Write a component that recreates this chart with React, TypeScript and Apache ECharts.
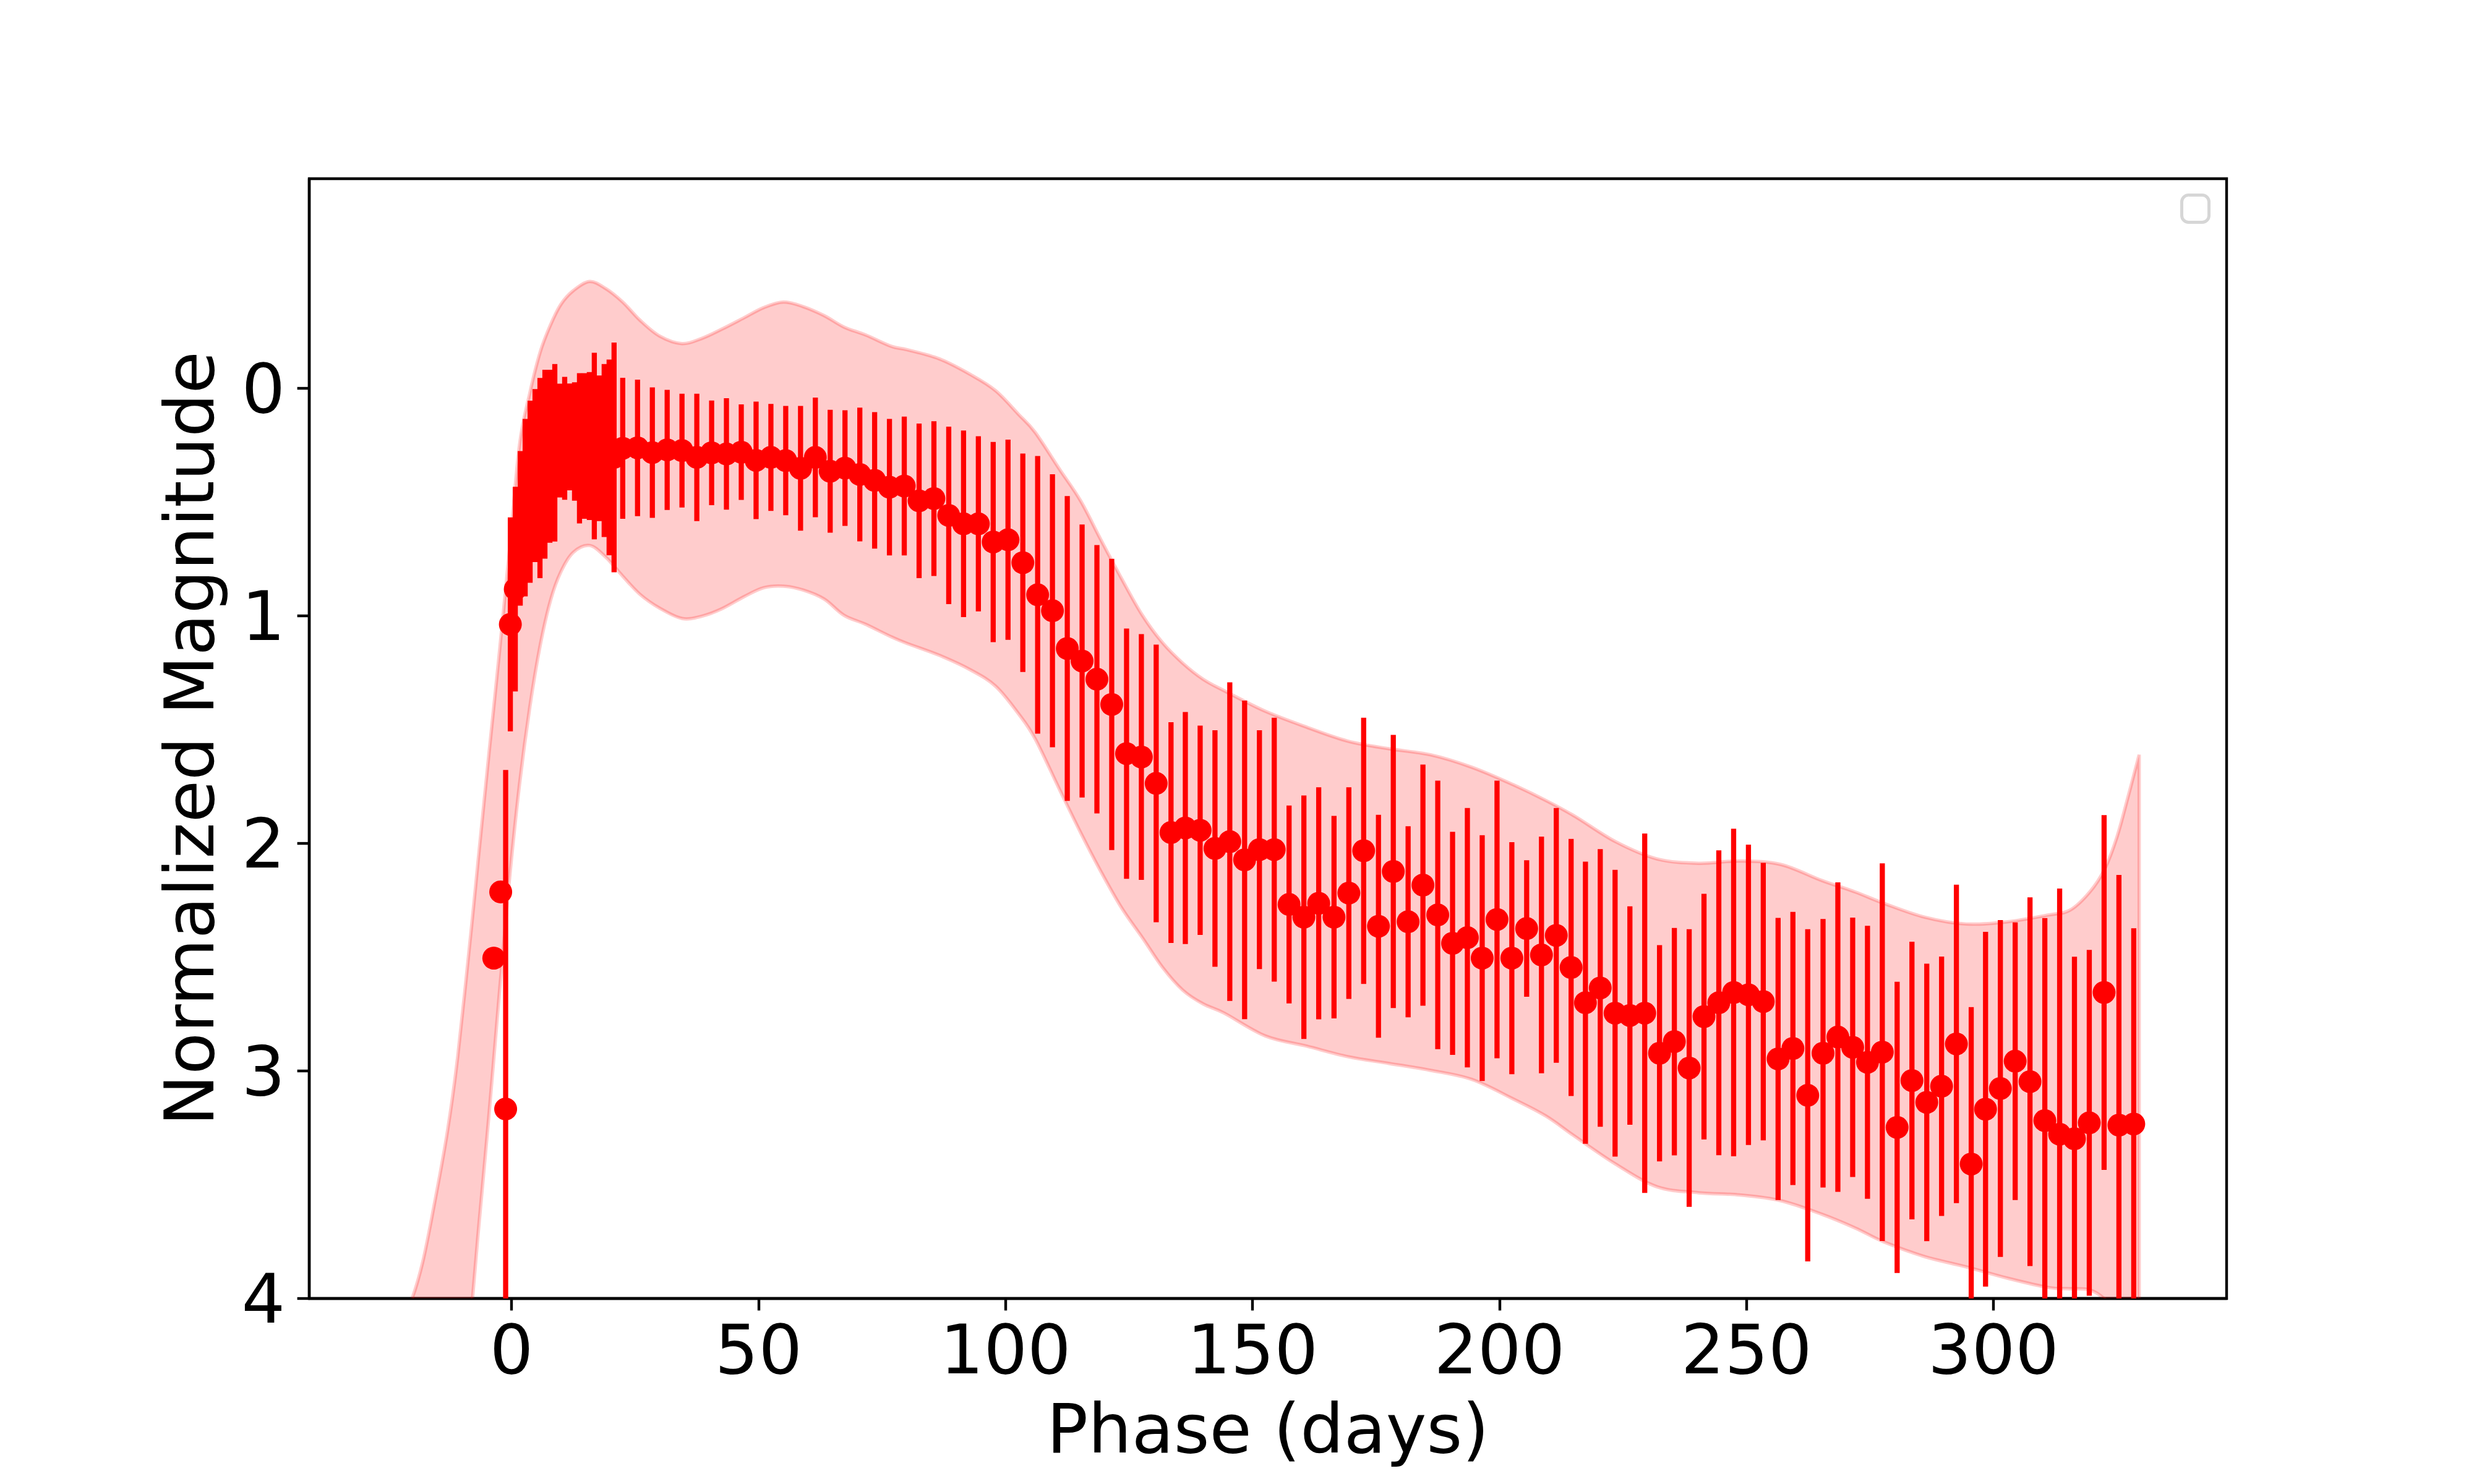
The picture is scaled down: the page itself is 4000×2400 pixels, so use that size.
import React, { useEffect, useRef } from "react";
import * as echarts from "echarts";

// ---- Observations (phase in days, normalized magnitude, 1-sigma error) ----
const phase = [
  -3.6, -2.2, -1.2, -0.25, 0.75, 1.75, 2.75, 3.75, 4.75, 5.75, 6.75, 7.75, 8.75, 9.75, 10.75,
  11.75, 12.75, 13.75, 14.75, 15.75, 16.75, 17.75, 18.75, 19.75, 20.75,
  22.5, 25.5, 28.5, 31.5, 34.5, 37.5, 40.5, 43.5, 46.5, 49.5, 52.5, 55.5, 58.5, 61.5, 64.5,
  67.5, 70.5, 73.5, 76.5, 79.5, 82.5, 85.5, 88.5, 91.5, 94.5, 97.5, 100.5, 103.5, 106.5,
  109.5, 112.5, 115.5, 118.5, 121.5, 124.5, 127.5, 130.5, 133.5, 136.4, 139.4, 142.4, 145.4,
  148.4, 151.4, 154.4, 157.4, 160.4, 163.4, 166.5, 169.5, 172.5, 175.5, 178.5, 181.5, 184.5,
  187.5, 190.5, 193.5, 196.5, 199.5, 202.5, 205.5, 208.5, 211.5, 214.5, 217.4, 220.4, 223.4,
  226.4, 229.4, 232.4, 235.4, 238.4, 241.4, 244.4, 247.4, 250.4, 253.4, 256.4, 259.4, 262.4,
  265.5, 268.5, 271.5, 274.5, 277.5, 280.5, 283.5, 286.5, 289.5, 292.5, 295.5, 298.4, 301.4,
  304.4, 307.4, 310.4, 313.4, 316.4, 319.4, 322.4, 325.4, 328.4,
];
const mag = [
  2.504, 2.213, 3.167, 1.037, 0.882, 0.615, 0.524, 0.454, 0.383, 0.394, 0.333, 0.298, 0.283,
  0.229, 0.219, 0.213, 0.233, 0.263, 0.253, 0.253, 0.253, 0.263, 0.273, 0.303, 0.303,
  0.263, 0.261, 0.282, 0.27, 0.273, 0.303, 0.283, 0.288, 0.28, 0.316, 0.303, 0.317, 0.351,
  0.303, 0.364, 0.35, 0.378, 0.404, 0.434, 0.429, 0.494, 0.484, 0.558, 0.595, 0.595, 0.675,
  0.665, 0.766, 0.907, 0.977, 1.143, 1.198, 1.278, 1.389, 1.605, 1.62, 1.736, 1.952, 1.932,
  1.942, 2.022, 1.992, 2.072, 2.027, 2.027, 2.268, 2.324, 2.263, 2.324, 2.218, 2.032, 2.364,
  2.123, 2.344, 2.183, 2.314, 2.439, 2.414, 2.504, 2.334, 2.504, 2.374, 2.49, 2.404, 2.545,
  2.7, 2.635, 2.746, 2.756, 2.746, 2.922, 2.871, 2.987, 2.761, 2.7, 2.655, 2.665, 2.695,
  2.947, 2.901, 3.107, 2.922, 2.851, 2.896, 2.962, 2.917, 3.248, 3.042, 3.138, 3.067, 2.881,
  3.409, 3.168, 3.077, 2.957, 3.047, 3.218, 3.278, 3.298, 3.228, 2.655, 3.238, 3.233,
];
const magErr = [
  0.02, 0.02, 1.49, 0.47, 0.45, 0.34, 0.39, 0.4, 0.38, 0.44, 0.415, 0.38, 0.39, 0.25, 0.27,
  0.235, 0.26, 0.33, 0.32, 0.325, 0.41, 0.32, 0.38, 0.43, 0.505,
  0.31, 0.3, 0.287, 0.264, 0.25, 0.28, 0.23, 0.245, 0.21, 0.258, 0.235, 0.24, 0.274, 0.263, 0.27,
  0.254, 0.294, 0.3, 0.3, 0.305, 0.34, 0.34, 0.39, 0.41, 0.385, 0.44, 0.44, 0.48, 0.61,
  0.6, 0.67, 0.6, 0.59, 0.64, 0.55, 0.54, 0.61, 0.485, 0.51, 0.46, 0.52, 0.7,
  0.7, 0.525, 0.58, 0.435, 0.535, 0.51, 0.445, 0.465, 0.585, 0.49, 0.6, 0.42, 0.53,
  0.59, 0.49, 0.57, 0.54, 0.61, 0.51, 0.3, 0.52, 0.56, 0.565, 0.62, 0.61, 0.63,
  0.48, 0.79, 0.475, 0.5, 0.61, 0.54, 0.67, 0.72, 0.66, 0.61, 0.62, 0.6, 0.73,
  0.59, 0.68, 0.57, 0.6, 0.83, 0.64, 0.61, 0.61, 0.57, 0.7, 0.69, 0.78, 0.74,
  0.61, 0.81, 0.89, 1.08, 0.8, 0.76, 0.78, 1.1, 0.86,
];

// ---- Model confidence band (bright edge / faint edge) ----
const bandPhase = [
  -23.3, -20.5, -18, -15.5, -13, -10.9, -8, -6.8, -4.6, -2.5, -0.5, 1.6, 3.7, 5.8, 7.9, 10,
  12.5, 15.8, 19, 22.5, 26, 30, 34.5, 38.5, 42.5, 47, 51, 55, 59, 63.3, 67.3, 71.7, 76.9,
  80.1, 86.6, 93, 98, 102.6, 106, 110.9, 115.2, 119.3, 123.5, 127.7, 131.8, 135.9, 140,
  144.3, 152.6, 161, 169.3, 177.7, 186, 194.4, 202.7, 209.4, 215.3, 223.5, 231.9, 240.3,
  248.6, 256.9, 265.3, 272, 277.8, 286.1, 294.5, 302.9, 311.2, 315.5, 319.5, 322.5, 325,
  327.3, 329.5,
];
const bandUpper = [
  4.143, 4.022, 3.841, 3.57, 3.268, 2.937, 2.344, 2.082, 1.61, 1.168, 0.726, 0.25, 0.02, -0.16,
  -0.28, -0.37, -0.43, -0.47, -0.44, -0.38, -0.3, -0.23, -0.197, -0.22, -0.26, -0.31, -0.355,
  -0.38, -0.36, -0.32, -0.27, -0.235, -0.185, -0.17, -0.13, -0.06, 0.01, 0.113, 0.193, 0.354,
  0.494, 0.665, 0.836, 0.997, 1.118, 1.208, 1.278, 1.329, 1.419, 1.489, 1.55, 1.584, 1.61,
  1.665, 1.741, 1.811, 1.881, 1.992, 2.068, 2.087, 2.077, 2.092, 2.163, 2.213, 2.263, 2.324,
  2.354, 2.344, 2.314, 2.293, 2.213, 2.113, 1.972, 1.791, 1.61,
];
const bandLower = [
  9.5, 8.4, 7.4, 6.4, 5.45, 4.7, 4.022, 3.721, 3.198, 2.665, 2.173, 1.741, 1.399, 1.128, 0.93,
  0.805, 0.72, 0.69, 0.74, 0.825, 0.905, 0.966, 1.011, 1.001, 0.969, 0.916, 0.876, 0.869,
  0.886, 0.926, 0.997, 1.037, 1.092, 1.121, 1.173, 1.238, 1.309, 1.429, 1.54, 1.761, 1.952,
  2.123, 2.283, 2.414, 2.545, 2.645, 2.705, 2.746, 2.846, 2.891, 2.937, 2.967, 2.997, 3.037,
  3.122, 3.198, 3.288, 3.409, 3.509, 3.535, 3.545, 3.57, 3.63, 3.69, 3.751, 3.816, 3.861,
  3.911, 3.952, 3.957, 3.962, 4.002, 4.072, 4.143, 4.223,
];

const xTicks = [0, 50, 100, 150, 200, 250, 300];
const yTicks = [0, 1, 2, 3, 4];

const FONT = "DejaVu Sans";
const BAND = "rgba(255,0,0,0.2)";

// Catmull-Rom -> cubic Bezier path segments through pixel points (rendering only)
function curveThrough(pts: number[][], moveFirst: boolean): string {
  let d = moveFirst ? `M${pts[0][0]},${pts[0][1]}` : `L${pts[0][0]},${pts[0][1]}`;
  const n = pts.length;
  for (let i = 0; i < n - 1; i++) {
    const p0 = pts[Math.max(0, i - 1)];
    const p1 = pts[i];
    const p2 = pts[i + 1];
    const p3 = pts[Math.min(n - 1, i + 2)];
    const c1x = p1[0] + (p2[0] - p0[0]) / 6;
    const c1y = p1[1] + (p2[1] - p0[1]) / 6;
    const c2x = p2[0] - (p3[0] - p1[0]) / 6;
    const c2y = p2[1] - (p3[1] - p1[1]) / 6;
    d += ` C${c1x},${c1y} ${c2x},${c2y} ${p2[0]},${p2[1]}`;
  }
  return d;
}

export default function App() {
  const ref = useRef<HTMLDivElement>(null);

  useEffect(() => {
    document.body.style.margin = "0";
    if (!ref.current) return;
    const chart = echarts.init(ref.current, null, { renderer: "svg" });

    const option: any = {
      animation: false,
      backgroundColor: "#ffffff",
      textStyle: { fontFamily: FONT },
      grid: {
        left: 500,
        right: 400,
        top: 289,
        bottom: 300,
        show: true,
        borderColor: "#000",
        borderWidth: 4.4,
        backgroundColor: "transparent",
      },
      xAxis: {
        type: "value",
        min: -40.96,
        max: 347.2,
        splitLine: { show: false },
        axisLine: { show: true, onZero: false, lineStyle: { color: "#000", width: 4.4 } },
        axisTick: {
          show: true,
          length: 19.4,
          lineStyle: { color: "#000", width: 4.4 },
          customValues: xTicks,
        },
        axisLabel: {
          customValues: xTicks,
          fontSize: 111,
          color: "#000",
          fontFamily: FONT,
          margin: 27,
        },
        name: "Phase (days)",
        nameLocation: "middle",
        nameGap: 155,
        nameTextStyle: { fontSize: 111, color: "#000", fontFamily: FONT },
      },
      yAxis: {
        type: "value",
        inverse: true,
        min: -0.922,
        max: 4,
        splitLine: { show: false },
        axisLine: { show: true, onZero: false, lineStyle: { color: "#000", width: 4.4 } },
        axisTick: {
          show: true,
          length: 19.4,
          lineStyle: { color: "#000", width: 4.4 },
          customValues: yTicks,
        },
        axisLabel: {
          customValues: yTicks,
          fontSize: 111,
          color: "#000",
          fontFamily: FONT,
          margin: 39,
        },
        name: "Normalized Magnitude",
        nameLocation: "middle",
        nameRotate: 90,
        nameGap: 138,
        nameTextStyle: { fontSize: 111, color: "#000", fontFamily: FONT },
      },
      series: [
        {
          type: "custom",
          name: "band",
          data: [[bandPhase[0], bandUpper[0]]],
          encode: { x: 0, y: 1 },
          clip: true,
          z: 1,
          silent: true,
          renderItem: (_params: any, api: any) => {
            const up = bandPhase.map((x, i) => api.coord([x, bandUpper[i]]));
            const lo = bandPhase
              .map((x, i) => api.coord([x, bandLower[i]]))
              .reverse();
            const d = curveThrough(up, true) + " " + curveThrough(lo, false) + " Z";
            return {
              type: "path",
              shape: { pathData: d },
              style: { fill: BAND, stroke: BAND, lineWidth: 5.5 },
            };
          },
        },
        {
          type: "custom",
          name: "errors",
          data: phase.map((x, i) => [x, mag[i], magErr[i]]),
          encode: { x: 0, y: 1 },
          clip: true,
          z: 3,
          silent: true,
          renderItem: (_params: any, api: any) => {
            const x = api.value(0);
            const y = api.value(1);
            const e = api.value(2);
            const p1 = api.coord([x, y - e]);
            const p2 = api.coord([x, y + e]);
            return {
              type: "line",
              shape: { x1: p1[0], y1: p1[1], x2: p2[0], y2: p2[1] },
              style: { stroke: "#ff0000", lineWidth: 8.3, lineCap: "butt" },
            };
          },
        },
        {
          type: "scatter",
          name: "points",
          data: phase.map((x, i) => [x, mag[i]]),
          symbol: "circle",
          symbolSize: 37,
          itemStyle: { color: "#ff0000", opacity: 1 },
          clip: true,
          z: 4,
          silent: true,
        },
      ],
      graphic: [
        {
          type: "rect",
          shape: { x: 3527.5, y: 315.5, width: 44, height: 44, r: 11 },
          style: { fill: "rgba(255,255,255,0.8)", stroke: "#d6d6d6", lineWidth: 5 },
          z: 10,
        },
      ],
    };

    chart.setOption(option);
    return () => {
      chart.dispose();
    };
  }, []);

  return (
    <div
      ref={ref}
      style={{ position: "absolute", left: 0, top: 0, width: 4000, height: 2400 }}
    />
  );
}
